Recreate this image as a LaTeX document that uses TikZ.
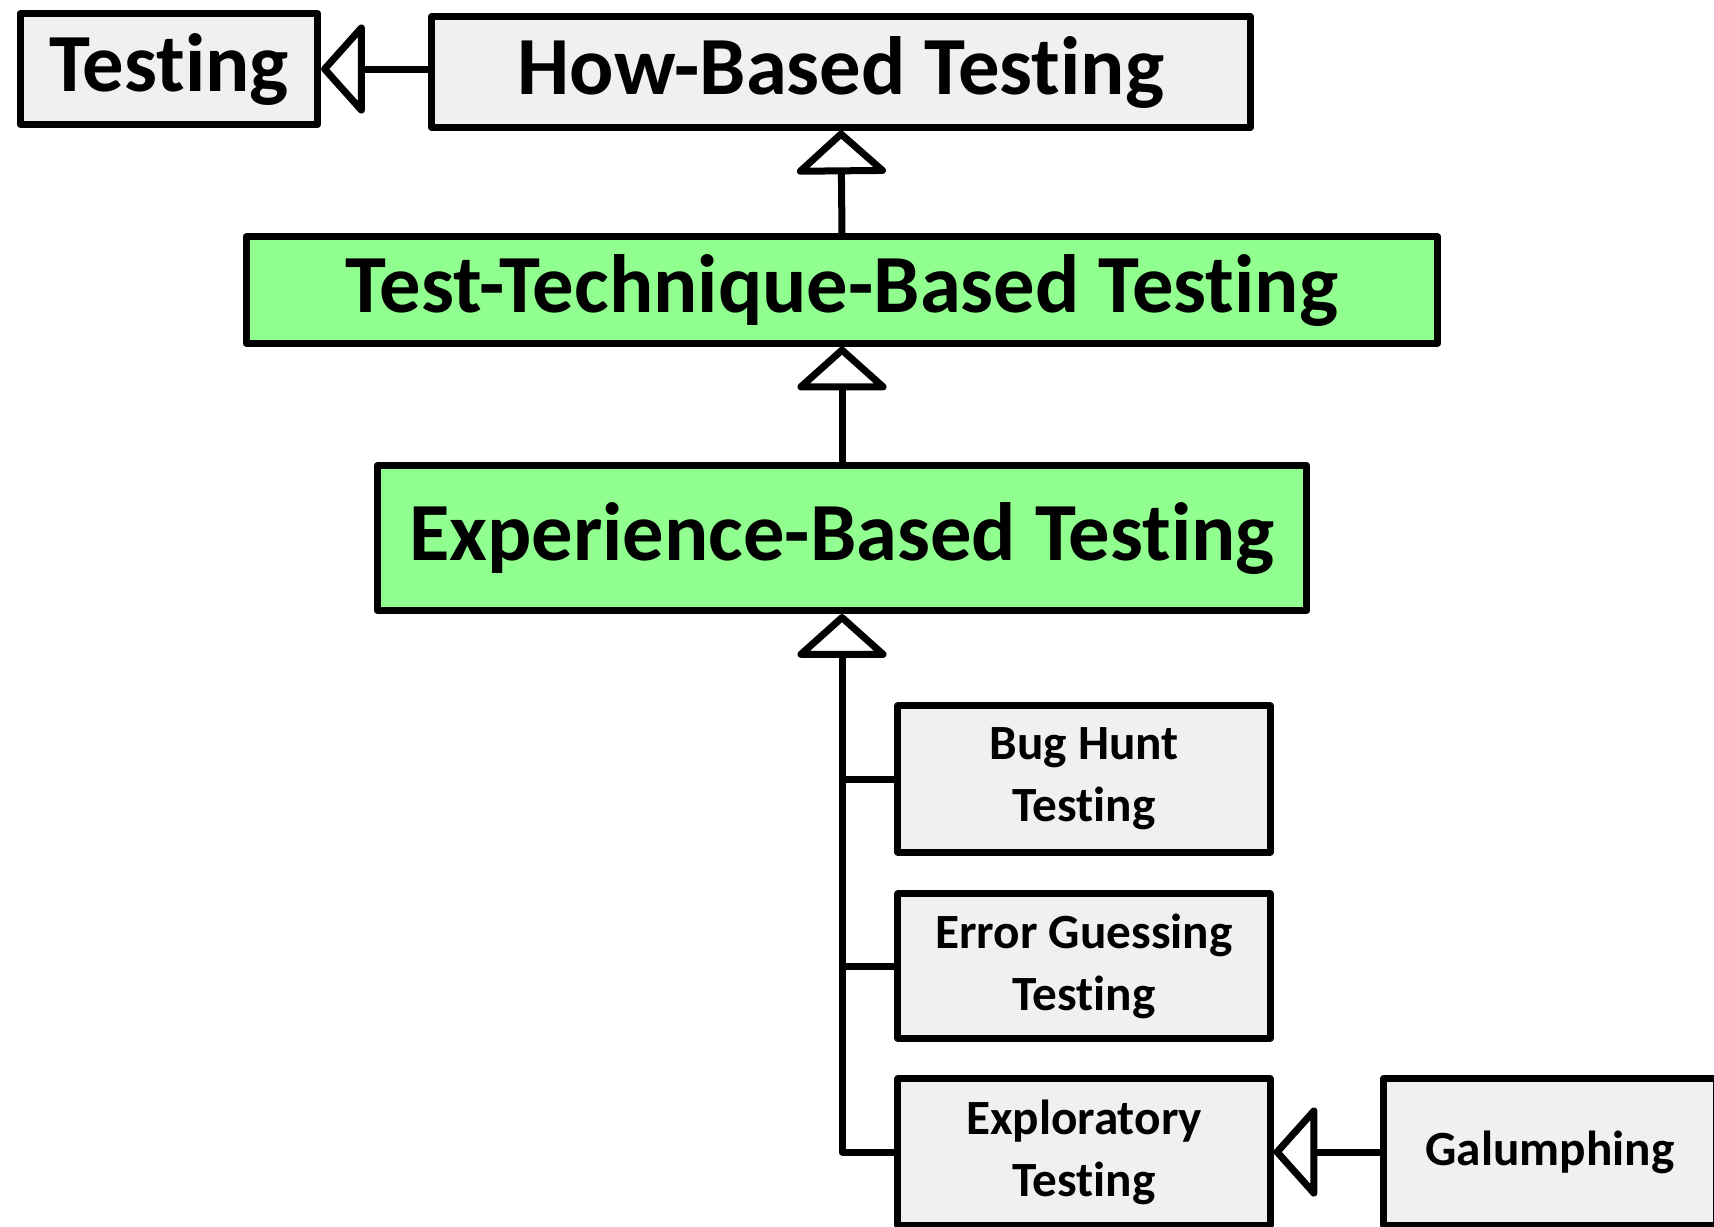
\documentclass[tikz,border=0pt]{standalone}
\usepackage{fontspec}
\setmainfont{Carlito}[Ligatures=NoCommon, Contextuals=NoAlternate]
\usetikzlibrary{arrows.meta}
\definecolor{boxgray}{RGB}{240,240,240}
\definecolor{boxgreen}{RGB}{144,255,144}

\begin{document}
\begin{tikzpicture}[x=0.01cm, y=-0.01cm, line width=0.07cm, line join=round,
        kind/.style={draw, fill=boxgray, inner sep=0pt, align=center,
            font=\bfseries\fontsize{23.5}{28}\selectfont},
        leaf/.style={draw, fill=boxgray, inner sep=0pt, align=center,
            minimum width=3.72cm, minimum height=1.46cm,
            font=\bfseries\fontsize{14}{17.6}\selectfont},
        isa/.style={-{Triangle[open, round, length=0.45cm, width=0.99cm]}}]
            \useasboundingbox (0,0) rectangle (1714,1226);
            \clip (0,0) rectangle (1714,1226);

            % Upper classes of the hierarchy
            \node[kind, minimum width=2.97cm, minimum height=1.11cm] (testing) at (169,69) {Testing};
            \node[kind, minimum width=8.19cm, minimum height=1.10cm] (how) at (841,72) {How-Based Testing};
            \node[kind, fill=boxgreen, minimum width=11.91cm, minimum height=1.06cm] (tech) at (842,290) {Test-Technique-Based Testing};
            \node[kind, fill=boxgreen, minimum width=9.29cm, minimum height=1.45cm] (exp) at (842,538) {Experience-Based Testing};

            % Kinds of experience-based testing
            \node[leaf] (bug) at (1084,779) {Bug Hunt\\Testing};
            \node[leaf, minimum height=1.44cm] (guess) at (1084,966) {Error Guessing\\Testing};
            \node[leaf] (explo) at (1084,1152) {Exploratory\\Testing};
            \node[leaf, minimum width=3.33cm, minimum height=1.47cm] (galump) at (1550,1152) {Galumphing};

            % Generalisation arrows
            \draw[isa] (how.west |- testing.east) -- (testing.east);
            \draw[isa] (tech.north) -- (how.south);
            \draw[isa] (exp.north) -- (tech.south);
            \draw[isa] (explo.west) -| (exp.south);
            \draw (bug.west) -- (bug.west -| exp.south);
            \draw (guess.west) -- (guess.west -| exp.south);
            \draw[isa] (galump.west) -- (explo.east);
        \end{tikzpicture}
\end{document}
